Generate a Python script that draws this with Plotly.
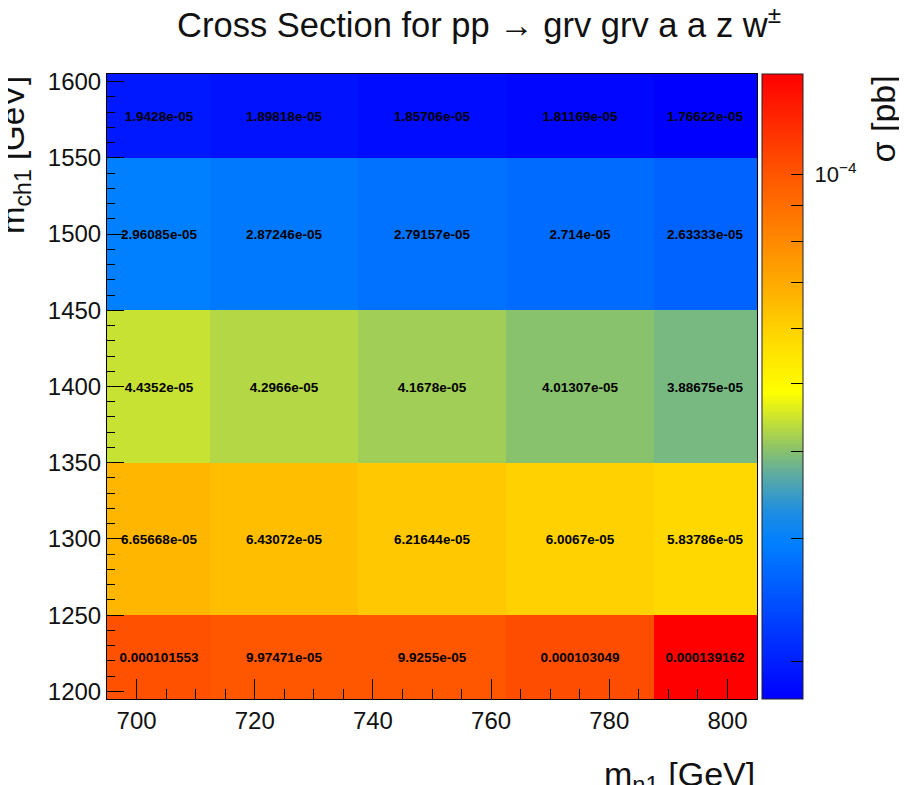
import numpy as np
import plotly.graph_objects as go

# ---- data ----
m_n1 = [700, 725, 750, 775, 800]          # x bin centres [GeV]
m_ch1 = [1200, 1300, 1400, 1500, 1600]    # y bin centres [GeV]
xsec_1200 = [0.000101553, 9.97471e-05, 9.9255e-05, 0.000103049, 0.000139162]
xsec_1300 = [6.65668e-05, 6.43072e-05, 6.21644e-05, 6.0067e-05, 5.83786e-05]
xsec_1400 = [4.4352e-05, 4.2966e-05, 4.1678e-05, 4.01307e-05, 3.88675e-05]
xsec_1500 = [2.96085e-05, 2.87246e-05, 2.79157e-05, 2.714e-05, 2.63333e-05]
xsec_1600 = [1.9428e-05, 1.89818e-05, 1.85706e-05, 1.81169e-05, 1.76622e-05]
x_range = [695, 805]
y_range = [1195, 1605]
cbar_minor = [2e-5, 3e-5, 4e-5, 5e-5, 6e-5, 7e-5, 8e-5, 9e-5]
cbar_major = [1e-4]

rows = [xsec_1200, xsec_1300, xsec_1400, xsec_1500, xsec_1600]
vals = np.array(rows)
z = np.log10(vals)
text = [["%g" % v for v in r] for r in rows]

def edges(centres, rng):
    c = list(centres)
    mids = [(a + b) / 2 for a, b in zip(c[:-1], c[1:])]
    return [rng[0]] + mids + [rng[1]]

xe = edges(m_n1, x_range)
ye = edges(m_ch1, y_range)

colorscale = [
    [0.00, "rgb(0,0,255)"],
    [0.25, "rgb(0,128,255)"],
    [0.30, "rgb(30,142,225)"],
    [0.36, "rgb(95,172,160)"],
    [0.40, "rgb(140,195,105)"],
    [0.49, "rgb(255,255,0)"],
    [0.58, "rgb(255,216,0)"],
    [0.65, "rgb(255,178,0)"],
    [0.84, "rgb(255,85,0)"],
    [1.00, "rgb(255,0,0)"],
]

tickv = [np.log10(v) for v in cbar_minor + cbar_major]
tickt = [""] * len(cbar_minor) + ["\u00a010<sup>\u22124</sup>"]

FONT = "Liberation Sans, Arial, Helvetica, sans-serif"
OFF = 8  # page body margin of the html page
W, H = 907 - OFF, 785 - OFF
L, R, T, B = 107, 757, 74, 699   # plot area in screen pixels
PW, PH = R - L, B - T

fig = go.Figure(go.Heatmap(
    x=xe, y=ye, z=z,
    zmin=float(np.log10(vals.min())), zmax=float(np.log10(vals.max())),
    colorscale=colorscale,
    text=text, texttemplate="<b>%{text}</b>",
    textfont=dict(family=FONT, size=13.5, color="black"),
    hoverinfo="skip",
    colorbar=dict(
        x=(762 - L) / PW, xanchor="left", xpad=0,
        y=0.5, yanchor="middle", ypad=0, len=1, lenmode="fraction",
        thickness=41, outlinewidth=1, outlinecolor="#222",
        tickmode="array", tickvals=tickv, ticktext=tickt,
        ticks="inside", ticklen=12, tickcolor="black", tickwidth=1,
        tickfont=dict(family=FONT, size=22, color="#111"),
    ),
))

axis_common = dict(
    showline=True, linecolor="black", linewidth=1, mirror=True,
    ticks="inside", tickcolor="black", tickwidth=1,
    tickfont=dict(family=FONT, size=24, color="#111"),
    showgrid=False, zeroline=False,
)
fig.update_xaxes(range=x_range, tickvals=[700, 720, 740, 760, 780, 800], ticklen=20,
                 minor=dict(ticks="inside", ticklen=10, dtick=5, tick0=695, tickcolor="black", showgrid=False),
                 **axis_common)
fig.update_yaxes(range=y_range, tickvals=[1200, 1250, 1300, 1350, 1400, 1450, 1500, 1550, 1600], ticklen=17,
                 minor=dict(ticks="inside", ticklen=8, dtick=10, tick0=1200, tickcolor="black", showgrid=False),
                 **axis_common)

fig.update_layout(
    width=W, height=H,
    margin=dict(l=L - OFF, r=W - (R - OFF), t=T - OFF, b=H - (B - OFF), autoexpand=False),
    paper_bgcolor="white", plot_bgcolor="white",
    font=dict(family=FONT, color="#111"),
    title=dict(text="Cross Section for pp \u2192 grv grv a a z w<sup>\u00b1</sup>",
               x=(479 - OFF) / W, xanchor="center", xref="container",
               y=1 - (25 - OFF) / H, yanchor="middle", yref="container",
               font=dict(family=FONT, size=34.5, color="#111")),
    annotations=[
        dict(text="m<sub>ch1</sub> [GeV]", textangle=-90, xref="paper", yref="paper",
             x=-(L - 38) / PW, xanchor="right", y=1.0, yanchor="top", showarrow=False,
             font=dict(family=FONT, size=33, color="#111")),
        dict(text="m<sub>n1</sub> [GeV]", xref="paper", yref="paper",
             x=1.0, xanchor="right", y=-(753 - B) / PH, yanchor="top", showarrow=False,
             font=dict(family=FONT, size=34, color="#111")),
        dict(text="\u03c3 [pb]", textangle=-90, xref="paper", yref="paper",
             x=(861 - L) / PW, xanchor="left", y=1.0, yanchor="top", showarrow=False,
             font=dict(family=FONT, size=34, color="#111")),
    ],
)

fig.write_html("out.html")
